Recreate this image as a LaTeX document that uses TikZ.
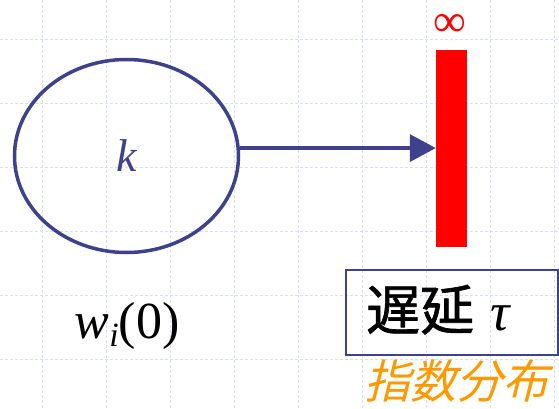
\documentclass[tikz,border=0pt]{standalone}
\usepackage{fontspec}
\setmainfont{Liberation Serif}
\newfontfamily\cjk[FakeBold=1.2]{Noto Sans CJK JP}
\newfontfamily\cjkslant[FakeSlant=0.25]{Noto Sans CJK JP}
\usetikzlibrary{arrows.meta,positioning,shapes.geometric}
\definecolor{navy}{RGB}{62,66,140}
\definecolor{wallred}{RGB}{255,0,0}
\definecolor{expcolor}{RGB}{255,153,0}
\definecolor{gridblue}{RGB}{214,222,250}
\tikzset{
  gridline/.style = {draw=gridblue,dash pattern=on 3pt off 2pt,line width=0.8pt},
  state/.style    = {ellipse,draw=navy,line width=3.5pt,minimum width=224pt,
                     minimum height=193pt,inner sep=0pt},
  wall/.style     = {fill=wallred,minimum width=31pt,minimum height=197pt,inner sep=0pt},
  delaybox/.style = {draw=navy,line width=2pt,minimum width=212pt,
                     minimum height=85pt,inner sep=0pt},
  arrow/.style    = {-{Triangle[length=26pt,width=27pt]},line width=3.5pt,draw=navy},
}

\begin{document}
\begin{tikzpicture}[x=1pt,y=-1pt]
  \fill[white] (0,0) rectangle (559,409);
  \useasboundingbox (0,0) rectangle (559,409);
  % grid
  \foreach \x in {42,106,...,554} \draw[gridline] (\x,0) -- (\x,409);
  \foreach \y in {39,103,...,359} \draw[gridline] (0,\y) -- (559,\y);

  \node[state,font=\fontsize{46}{46}\selectfont\itshape,text=navy] (st) at (126.5,156) {k};
  \node[wall] (wall) at (451.5,148.5) {};
  \node[text=wallred,font=\fontsize{46}{46}\selectfont,anchor=base,inner sep=0pt]
       (inf) at (450,37) {∞};
  \node[delaybox] (delay) at (451.5,312) {};
  \node[font=\fontsize{54}{54}\selectfont,anchor=base west,inner sep=0pt] (delaytxt)
       at (366,330) {{\cjk 遅延}\hspace{0.3em}{\itshape τ}};
  \node[anchor=base,text=expcolor,font=\fontsize{46}{46}\selectfont\cjkslant,inner sep=0pt]
       (dist) at (456,398) {指数分布};
  \node[font=\fontsize{52}{52}\selectfont,anchor=base] (w0) at (127,338)
       {{\itshape w}\raisebox{-0.35ex}{\fontsize{34}{34}\selectfont\itshape i}(0)};

  \draw[arrow] (st.4) -- (st.4 -| wall.west);
\end{tikzpicture}
\end{document}
